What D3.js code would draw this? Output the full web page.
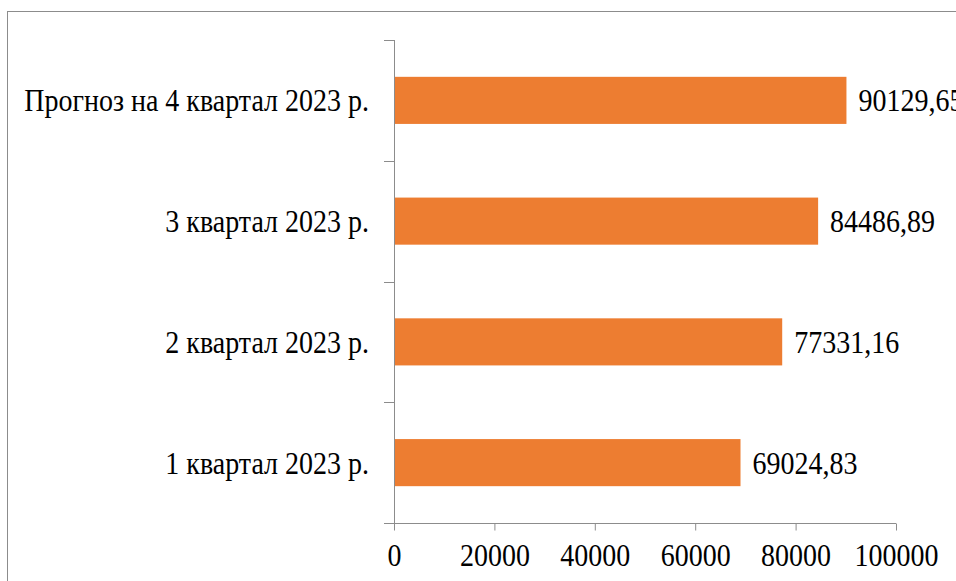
<!DOCTYPE html>
<html>
<head>
<meta charset="utf-8">
<script src="https://cdn.jsdelivr.net/npm/d3@7/dist/d3.min.js"></script>
<style>
  html, body { margin: 0; padding: 0; background: #fff; }
  svg { display: block; }
  text { font-family: "Liberation Serif", "Times New Roman", serif; fill: #000; }
</style>
</head>
<body>
<svg id="chart" width="956" height="581"></svg>
<script>
// Quarterly values (bottom to top as drawn)
const categories = ["1 квартал 2023 р.", "2 квартал 2023 р.", "3 квартал 2023 р.", "Прогноз на 4 квартал 2023 р."];
const values = [69024.83, 77331.16, 84486.89, 90129.65];
const valueLabels = ["69024,83", "77331,16", "84486,89", "90129,65"];
const xTicks = [0, 20000, 40000, 60000, 80000, 100000];

const svg = d3.select("#chart");
const axisColor = "#8c8c8c";
const fontSize = 28;
const stretchY = 1.1;   // glyphs are drawn slightly tall

// Outer chart frame (runs past the right and bottom edges)
svg.append("rect")
  .attr("x", 7.5).attr("y", 11.5)
  .attr("width", 1000).attr("height", 1000)
  .attr("fill", "none").attr("stroke", axisColor).attr("stroke-width", 1);

const plot = { left: 394, right: 896, top: 40, bottom: 523 };

const x = d3.scaleLinear().domain([0, 100000]).range([plot.left, plot.right]);
// Top category is the forecast, so reverse for the band scale
const y = d3.scaleBand().domain(categories.slice().reverse())
  .range([plot.top, plot.bottom]).paddingInner(0.61).paddingOuter(0.305);

// Helper: place stretched text with its baseline at (tx, ty)
function place(sel, tx, ty) {
  sel.attr("transform", (d, i) => `translate(${tx(d, i)},${ty(d, i)}) scale(1,${stretchY})`);
}

// Bars
svg.append("g").selectAll("rect")
  .data(categories)
  .join("rect")
  .attr("x", x(0))
  .attr("y", d => y(d))
  .attr("width", (d, i) => x(values[i]) - x(0))
  .attr("height", y.bandwidth())
  .attr("fill", "#ED7D31");

// Value labels
svg.append("g").selectAll("text")
  .data(categories)
  .join("text")
  .attr("font-size", fontSize)
  .text((d, i) => valueLabels[i])
  .call(place, (d, i) => x(values[i]) + 12, d => y(d) + y.bandwidth() / 2 + 11);

// Category axis: line plus tick marks on band boundaries
const gy = svg.append("g");
gy.append("line")
  .attr("x1", plot.left + 0.5).attr("x2", plot.left + 0.5)
  .attr("y1", plot.top).attr("y2", plot.bottom)
  .attr("stroke", axisColor);
const step = (plot.bottom - plot.top) / categories.length;
gy.selectAll("line.tick")
  .data(d3.range(categories.length + 1))
  .join("line")
  .attr("class", "tick")
  .attr("x1", plot.left - 10).attr("x2", plot.left)
  .attr("y1", i => Math.round(plot.top + i * step) + 0.5)
  .attr("y2", i => Math.round(plot.top + i * step) + 0.5)
  .attr("stroke", axisColor);
gy.selectAll("text")
  .data(categories)
  .join("text")
  .attr("text-anchor", "end")
  .attr("font-size", fontSize)
  .text(d => d)
  .call(place, () => 369, d => y(d) + y.bandwidth() / 2 + 11);

// Value axis
const xAxis = d3.axisBottom(x).tickValues(xTicks).tickSize(7).tickFormat(d3.format("d"));
const gx = svg.append("g")
  .attr("transform", `translate(0,${plot.bottom + 0.5})`)
  .call(xAxis);
gx.select(".domain").attr("stroke", axisColor).attr("d", `M${plot.left - 10},0H${plot.right}`);
gx.selectAll(".tick line").attr("stroke", axisColor);
gx.selectAll(".tick text")
  .attr("font-family", "Liberation Serif, Times New Roman, serif")
  .attr("font-size", fontSize).attr("fill", "#000")
  .attr("y", 0).attr("dy", null)
  .attr("transform", `translate(0,${565 - plot.bottom}) scale(1,${stretchY})`);
</script>
</body>
</html>
